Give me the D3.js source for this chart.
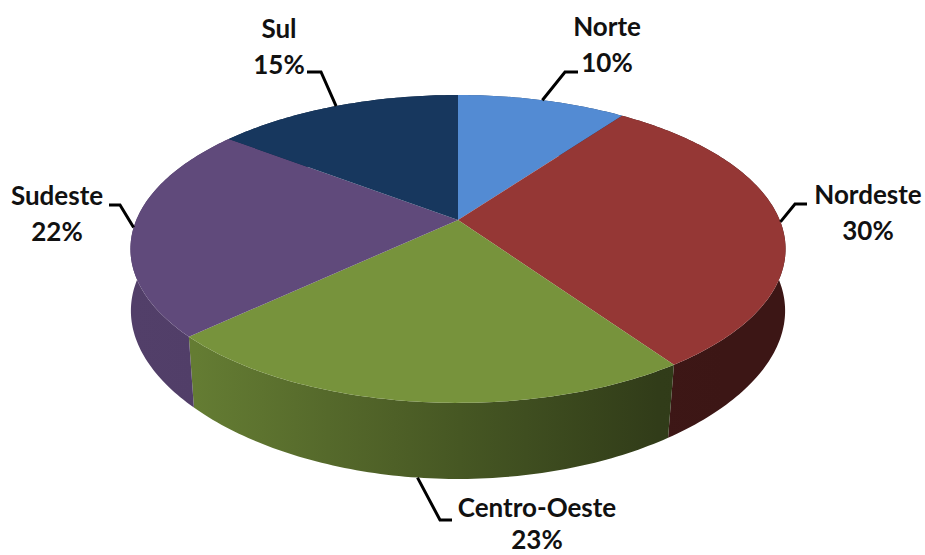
<!DOCTYPE html>
<html>

<head>
    <meta charset="utf-8">
    <script src="https://cdn.jsdelivr.net/npm/d3@7"></script>
    <style>
        body { margin: 0; background: #fff; }
        svg { display: block; }
    </style>
</head>

<body>
    <script>
        var regions = ['Norte', 'Nordeste', 'Centro-Oeste', 'Sudeste', 'Sul'];
        // unrounded shares as read from the slice edges, the labels round them
        var shares = [10, 30.4, 22.6, 22.4, 14.6];
        var colors = ['#538bd3', '#953735', '#77933c', '#604a7b', '#17375e'];

        // label anchor (centre x, baseline of first line, gap to second line) and elbow of the leader
        var labelPos = [[607, 36, 36], [868, 204, 36], [537, 517, 32], [57, 205, 36], [279, 38, 36]];
        var elbows = [[565, 72, 578], [795, 204, 807], [440, 520, 452], [120, 205, 109], [321, 72, 307]];

        var width = 925,
            height = 555;

        // the disc is a circle seen in perspective, so the apex is not the ellipse centre
        var cx = 458,
            cy = 220,
            rx = 321.7,
            ry = 148.5,
            tilt = 0.188,
            depth = 61.8,
            shrink = 0.04;

        var svg = d3.select('body')
            .append('svg')
            .attr('width', width)
            .attr('height', height);

        function project(angle, z) {
            var u = Math.sin(angle),
                v = -Math.cos(angle),
                den = 1 - tilt * v,
                sx = z ? 1 - shrink * v * v : 1;
            return [cx + sx * rx * u / den, cy + (ry * v + (z ? depth : 0)) / den];
        }

        function arcPoints(a0, a1, z) {
            var n = Math.max(2, Math.ceil((a1 - a0) * 60));
            return d3.range(n + 1).map(function (i) {
                return project(a0 + (a1 - a0) * i / n, z);
            });
        }

        var line = d3.line();
        var arcs = d3.pie().sort(null).value(function (d) { return d; })(shares);

        // wall gets darker from left to right
        var shade = d3.scaleLinear().domain([130, 190, 450, 670, 790]).range([0.85, 0.85, 0.6, 0.4, 0.4]);
        var defs = svg.append('defs');

        arcs.forEach(function (d, i) {
            var grad = defs.append('linearGradient')
                .attr('id', 'wall' + i)
                .attr('gradientUnits', 'userSpaceOnUse')
                .attr('x1', 130).attr('x2', 790)
                .attr('y1', 0).attr('y2', 0);
            d3.range(0, 11).forEach(function (k) {
                var x = 130 + 66 * k,
                    c = d3.rgb(colors[i]),
                    f = shade(x);
                grad.append('stop')
                    .attr('offset', k / 10)
                    .attr('stop-color', d3.rgb(c.r * f, c.g * f, c.b * f).formatHex());
            });
        });

        // walls first, the top covers whatever sits behind it
        svg.append('g').selectAll('path')
            .data(arcs)
            .enter().append('path')
            .attr('d', function (d) {
                var top = arcPoints(d.startAngle, d.endAngle, false),
                    bottom = arcPoints(d.startAngle, d.endAngle, true).reverse();
                return line(top.concat(bottom)) + 'Z';
            })
            .style('fill', function (d, i) { return 'url(#wall' + i + ')'; });

        svg.append('g').selectAll('path')
            .data(arcs)
            .enter().append('path')
            .attr('d', function (d) {
                return line([[cx, cy]].concat(arcPoints(d.startAngle, d.endAngle, false))) + 'Z';
            })
            .style('fill', function (d, i) { return colors[i]; });

        // leader lines run from the middle of each slice's rim
        svg.append('g').selectAll('path')
            .data(arcs)
            .enter().append('path')
            .attr('d', function (d, i) {
                var mid = (d.startAngle + d.endAngle) / 2,
                    e = elbows[i],
                    onWall = Math.cos(mid) < -0.9;
                return line([project(mid, onWall), [e[0], e[1]], [e[2], e[1]]]);
            })
            .style('fill', 'none')
            .style('stroke', '#000')
            .style('stroke-width', 3);

        var labels = svg.append('g')
            .style('font-family', 'Lato, sans-serif')
            .style('font-size', '26px')
            .style('font-weight', 700)
            .style('fill', '#111')
            .attr('text-anchor', 'middle');

        regions.forEach(function (name, i) {
            labels.append('text')
                .attr('x', labelPos[i][0])
                .attr('y', labelPos[i][1])
                .text(name);
            labels.append('text')
                .attr('x', labelPos[i][0])
                .attr('y', labelPos[i][1] + labelPos[i][2])
                .text(Math.round(shares[i]) + '%');
        });
    </script>
</body>

</html>
